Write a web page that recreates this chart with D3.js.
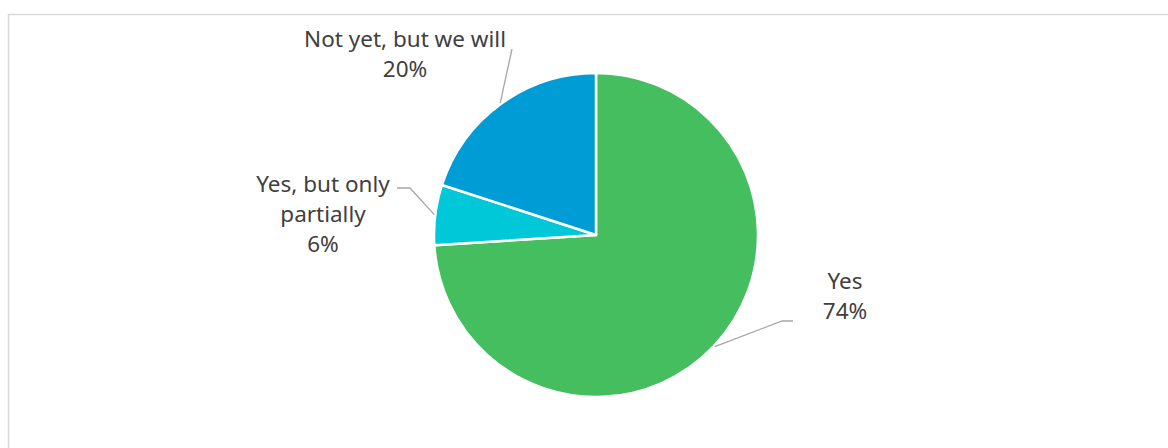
<!DOCTYPE html>
<html>
<head>
<meta charset="utf-8">
<script src="https://cdn.jsdelivr.net/npm/d3@7"></script>
<style>
  html, body { margin: 0; padding: 0; background: #fff; }
  svg { display: block; }
</style>
</head>
<body>
<svg id="chart" width="1168" height="448"></svg>
<script>
// Survey answers, in drawing order (clockwise from 12 o'clock)
const categories = ["Yes", "Yes, but only partially", "Not yet, but we will"];
const values = [74, 6, 20];
const labelLines = [["Yes", "74%"], ["Yes, but only", "partially", "6%"], ["Not yet, but we will", "20%"]];
const colors = ["#45be5f", "#00c8d9", "#009cd6"];

// Label placement: elbow point of the leader, end point, text anchor centre and first baseline
const labelLayout = [
  { elbow: [782, 321], end: [793, 321], tx: 845, ty: 289 },
  { elbow: [410, 188], end: [397, 188], tx: 323, ty: 192 },
  { elbow: null,       end: [512, 49],  tx: 405, ty: 47 }
];

const svg = d3.select("#chart");
const cx = 596, cy = 235, r = 162;
const lineH = 30;

// Chart area frame
svg.append("rect")
  .attr("x", 8.5).attr("y", 14.5)
  .attr("width", 1200).attr("height", 500)
  .attr("fill", "none")
  .attr("stroke", "#d9d9d9")
  .attr("stroke-width", 1.5);

const pie = d3.pie().sort(null).value(d => d)(values);
const arc = d3.arc().innerRadius(0).outerRadius(r);

const g = svg.append("g").attr("transform", `translate(${cx},${cy})`);
g.selectAll("path.slice")
  .data(pie)
  .join("path")
  .attr("class", "slice")
  .attr("d", arc)
  .attr("fill", (d, i) => colors[i])
  .attr("stroke", "#fff")
  .attr("stroke-width", 2.5)
  .attr("stroke-linejoin", "round");

// Leader lines start on the rim at each slice's mid angle
pie.forEach((d, i) => {
  const a = (d.startAngle + d.endAngle) / 2;
  const sx = cx + Math.sin(a) * (r + 1);
  const sy = cy - Math.cos(a) * (r + 1);
  const L = labelLayout[i];
  const pts = [[sx, sy]];
  if (L.elbow) pts.push(L.elbow);
  pts.push(L.end);
  svg.append("path")
    .attr("d", d3.line()(pts))
    .attr("fill", "none")
    .attr("stroke", "#a6a6a6")
    .attr("stroke-width", 1.3);

  const t = svg.append("text")
    .attr("x", L.tx).attr("y", L.ty)
    .attr("text-anchor", "middle")
    .attr("fill", "#404040")
    .style("font-family", "'Noto Sans', 'Open Sans', sans-serif")
    .style("font-size", "22.5px");
  labelLines[i].forEach((s, k) => {
    t.append("tspan").attr("x", L.tx).attr("y", L.ty + k * lineH).text(s);
  });
});
</script>
</body>
</html>
